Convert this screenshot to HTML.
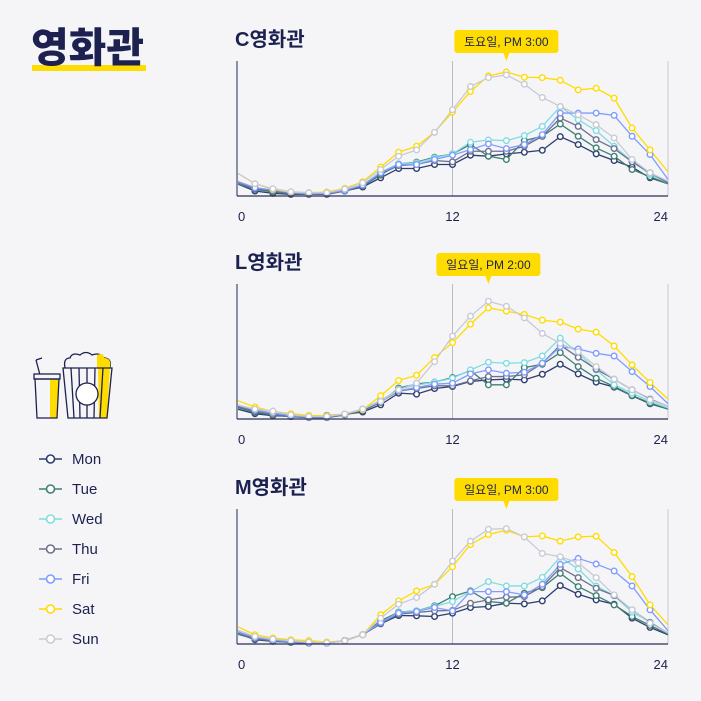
<!DOCTYPE html>
<html><head><meta charset="utf-8">
<style>
body{margin:0;background:#f5f5f8;width:701px;height:701px;overflow:hidden;font-family:"Liberation Sans","Noto Sans CJK KR",sans-serif;}
svg{position:absolute;left:0;top:0}
</style></head>
<body>
<svg id="chart" width="701" height="701">
  <g>
    <rect x="32" y="65" width="114" height="6" fill="#ffdc00"/>
    <text x="31" y="62" font-size="41" font-weight="900" fill="#1c2150" textLength="113" lengthAdjust="spacingAndGlyphs" font-family="'Noto Sans CJK KR',sans-serif">영화관</text>
  </g>
  <g fill="none" stroke="#1c2150" stroke-width="1.3">
    <line x1="40" y1="375" x2="36" y2="360"/><line x1="36" y1="360" x2="42" y2="358"/>
    <polygon points="50,378 59,378 57,418 50,418" fill="#ffdc00" stroke="none"/>
    <rect x="34" y="374" width="26" height="5" fill="#f5f5f8"/>
    <polygon points="35,379 59,379 57,418 37,418"/>
    <path d="M65,368 Q63,358 70,358 Q72,352 80,355 Q86,350 92,355 Q100,352 104,358 Q112,358 110,368" fill="#f5f5f8"/>
    <path d="M97,355 Q104,352 104,358 Q112,358 110,368 L97,368Z" fill="#ffdc00" stroke="none"/>
    <polygon points="98,368 110,368 107,418 99,418" fill="#ffdc00" stroke="none"/>
    <polygon points="63,368 112,368 107,418 68,418"/>
    <line x1="71" y1="368" x2="74" y2="418"/><line x1="79" y1="368" x2="80" y2="418"/><line x1="87" y1="368" x2="87" y2="418"/><line x1="95" y1="368" x2="94" y2="418"/><line x1="103" y1="368" x2="100" y2="418"/>
    <circle cx="87" cy="394" r="11" fill="#fff"/>
  </g>
  <g id="legend"></g>
  <g id="panels"></g>
</svg>
<script>
const NS="http://www.w3.org/2000/svg";
const hours=[0,1,2,3,4,5,6,7,8,9,10,11,12,13,14,15,16,17,18,19,20,21,22,23,24];
const xTicks=["0","12","24"];
const days=["Mon","Tue","Wed","Thu","Fri","Sat","Sun"];
const dayColors=["#2d3e6e","#3f7f74","#7fdde0","#6b7190","#7f9cff","#ffdc00","#c9cad6"];
const panelTitles=["C영화관","L영화관","M영화관"];
const tooltipTexts=["토요일, PM 3:00","일요일, PM 2:00","일요일, PM 3:00"];
const tooltipHours=[15,14,15];
const yMax=407;
// Panel C
const cMon=[37,15,8,5,5,5,15,27,55,83,83,95,95,123,120,127,132,138,179,155,127,107,87,55,37];
const cTue=[37,20,12,7,5,6,15,30,63,97,102,117,127,155,120,110,167,180,217,180,145,120,80,58,37];
const cWed=[42,24,17,10,7,8,17,33,72,97,100,115,127,162,169,167,182,210,270,230,197,150,105,65,40];
const cThu=[40,22,15,8,6,7,16,32,66,92,95,107,103,135,135,135,150,180,235,210,170,143,103,70,40];
const cFri=[45,25,18,10,7,8,17,33,70,95,95,110,123,140,157,143,155,185,250,250,250,243,180,125,50];
const cSat=[70,37,20,12,10,12,23,43,87,132,150,192,253,315,362,374,358,357,349,320,325,295,205,139,73];
const cSun=[70,37,22,13,10,10,21,40,80,120,139,192,260,330,357,365,337,297,270,245,215,175,110,70,45];
// Panel L
const lMon=[30,16,10,8,6,11,14,21,43,78,75,92,98,113,118,120,118,135,165,136,111,96,70,46,30];
const lTue=[35,20,12,7,4,4,12,25,50,93,106,111,125,146,103,103,155,165,200,158,123,98,71,48,30];
const lWed=[40,25,16,9,5,5,14,28,55,90,102,111,123,148,171,168,170,190,244,198,148,103,78,53,33];
const lThu=[38,23,14,8,5,5,13,27,52,84,92,100,100,115,128,128,133,168,223,186,150,120,88,60,38];
const lFri=[43,27,18,10,6,6,15,30,55,85,95,105,108,136,148,138,141,168,218,211,198,190,143,98,46];
const lSat=[56,36,23,16,11,10,15,28,70,116,132,185,230,286,335,325,315,298,292,271,262,220,163,110,60];
const lSun=[43,30,24,13,8,8,15,30,53,88,108,173,250,310,355,340,305,258,228,203,158,120,88,58,38];
// Panel M
const mMon=[33,13,8,5,3,3,11,28,61,86,85,83,93,110,113,123,121,130,176,150,133,120,78,50,28];
const mTue=[30,15,9,5,3,3,10,28,70,96,100,115,143,160,128,123,153,170,213,173,146,118,83,56,30];
const mWed=[35,18,11,6,4,3,10,28,65,95,100,113,128,158,188,175,175,201,262,226,175,146,96,66,33];
const mThu=[33,16,10,6,3,3,10,28,62,90,95,100,101,123,133,141,143,173,230,200,168,146,103,65,33];
const mFri=[38,20,12,7,4,3,10,28,65,93,98,110,100,158,158,158,148,180,240,258,241,220,175,103,40];
const mSat=[53,28,18,13,10,6,10,28,88,130,160,180,233,300,330,343,323,326,310,323,325,276,203,118,58];
const mSun=[43,23,15,10,6,4,10,28,78,120,140,180,250,310,346,348,323,273,263,245,200,148,103,63,33];

const panelData=[[cMon,cTue,cWed,cThu,cFri,cSat,cSun],[lMon,lTue,lWed,lThu,lFri,lSat,lSun],[mMon,mTue,mWed,mThu,mFri,mSat,mSun]];
const X0=237,X1=668,PH=135;
const panelTops=[61,284,509];
const x=h=>X0+(h/24)*(X1-X0);
function mk(tag,attrs,parent){const e=document.createElementNS(NS,tag);for(const k in attrs)e.setAttribute(k,attrs[k]);parent.appendChild(e);return e;}
const panels=document.getElementById('panels');
panelData.forEach((series,p)=>{
  const top=panelTops[p],base=top+PH;
  const y=v=>base-(v/yMax)*PH;
  const g=mk('g',{},panels);
  
  
  const t=mk('text',{x:235,y:top-15,'font-size':20,'font-weight':'bold',fill:'#1c2150'},g);
  t.textContent=panelTitles[p];
  
  
  const gl=mk('line',{x1:x(12),x2:x(12),y1:top,y2:base,stroke:'#bbbbc4','stroke-width':1},g);
  
  
  const rb=mk('line',{x1:X1,x2:X1,y1:top,y2:base,stroke:'#c8c8d0','stroke-width':1},g);
  
  
  series.forEach((vals,d)=>{
    const pts=vals.map((v,i)=>x(hours[i])+','+y(v)).join(' ');
    const pl=mk('polyline',{points:pts,fill:'none',stroke:dayColors[d],'stroke-width':1.3},g);
    
    
  });
  series.forEach((vals,d)=>{
    vals.forEach((v,i)=>{
      if(i===0||i===24)return;
      const c=mk('circle',{cx:x(hours[i]),cy:y(v),r:2.8,fill:'#fff',stroke:dayColors[d],'stroke-width':1.4},g);
      
      
    });
  });
  const la=mk('line',{x1:X0,x2:X0,y1:top,y2:base,stroke:'#8a8fa8','stroke-width':2},g);
  
  
  const bl=mk('line',{x1:X0,x2:X1,y1:base,y2:base,stroke:'#2a2f5a','stroke-width':1.3},g);
  
  
  xTicks.forEach((lab,i)=>{
    const h=+lab;
    const anchor=i===0?'start':(i===2?'end':'middle');
    const tx=mk('text',{x:i===0?x(h)+1:x(h),y:base+25,'font-size':13,fill:'#1c2150','text-anchor':anchor},g);
    tx.textContent=lab;
    
    
  });
  const cx=x(tooltipHours[p]);
  const tg=mk('g',{},g);
  
  
  mk('rect',{x:cx-52,y:top-31,width:104,height:23,rx:3,fill:'#ffdc00'},tg);
  mk('polygon',{points:(cx-3)+','+(top-8)+' '+(cx+3)+','+(top-8)+' '+cx+','+(top)},tg);
  tg.lastChild.setAttribute('fill','#ffdc00');
  const tt=mk('text',{x:cx,y:top-15,'font-size':12,fill:'#1c2150','text-anchor':'middle'},tg);
  tt.textContent=tooltipTexts[p];
});
const lg=document.getElementById('legend');
days.forEach((d,i)=>{
  const yy=459+i*30;
  const g=mk('g',{},lg);
  
  
  mk('line',{x1:39,x2:62,y1:yy,y2:yy,stroke:dayColors[i],'stroke-width':1.5},g);
  mk('circle',{cx:50.5,cy:yy,r:4,fill:'#fff',stroke:dayColors[i],'stroke-width':1.6},g);
  const t=mk('text',{x:72,y:yy+5,'font-size':15,fill:'#1c2150'},g);
  t.textContent=d;
});
</script>
</body></html>
